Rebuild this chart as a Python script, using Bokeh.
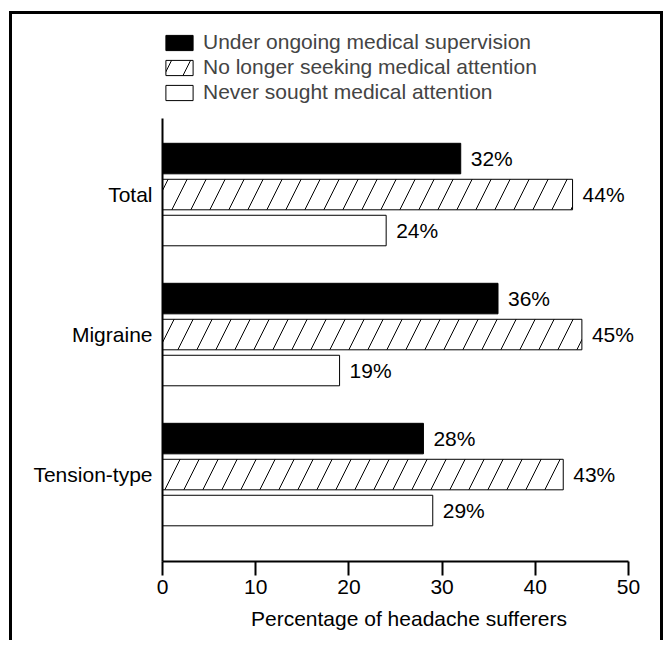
from bokeh.plotting import figure
from bokeh.models import Legend, LegendItem, FixedTicker, Range1d, InlineStyleSheet
from bokeh.core.properties import value
from bokeh.embed import file_html
from bokeh.resources import INLINE

categories = ["Total", "Migraine", "Tension-type"]
series = ["Under ongoing medical supervision",
          "No longer seeking medical attention",
          "Never sought medical attention"]
ongoing = [32, 36, 28]
no_longer = [44, 45, 43]
never = [24, 19, 29]
x_ticks = [0, 10, 20, 30, 40, 50]
x_title = "Percentage of headache sufferers"

FONT = "Liberation Sans"
FS = "21px"
n = len(categories)
pos = [n - i for i in range(n)]
off = 0.257
h = 0.218

p = figure(width=663, height=640, output_backend="svg", toolbar_location=None,
           x_range=Range1d(0, 52.9), y_range=Range1d(0.379, 4.286),
           min_border_left=162, min_border_right=8, min_border_top=14,
           min_border_bottom=79)
p.outline_line_color = None
p.xgrid.visible = False
p.ygrid.visible = False

y_top = [c + off for c in pos]
y_bot = [c - off for c in pos]

r1 = p.hbar(y=y_top, left=0, right=ongoing, height=h, fill_color="black",
            line_color="black", line_width=1)
r2 = p.hbar(y=pos, left=0, right=no_longer, height=h, fill_color="white",
            line_color="black", line_width=1, hatch_pattern="/",
            hatch_color="black", hatch_scale=38, hatch_weight=1)
r3 = p.hbar(y=y_bot, left=0, right=never, height=h, fill_color="white",
            line_color="black", line_width=1)

for vals, ys in ((ongoing, y_top), (no_longer, pos), (never, y_bot)):
    p.text(x=vals, y=ys, text=[f"{v}%" for v in vals], x_offset=10,
           text_baseline="middle", text_align="left",
           text_font=value(FONT), text_font_size=FS, text_color="black")

legend = Legend(items=[LegendItem(label=series[0], renderers=[r1]),
                       LegendItem(label=series[1], renderers=[r2]),
                       LegendItem(label=series[2], renderers=[r3])],
                location=(0, 457), padding=0, margin=0, spacing=1,
                glyph_width=34, glyph_height=19, label_height=19,
                label_standoff=7, label_text_font=FONT,
                label_text_font_size=FS, border_line_alpha=0,
                background_fill_alpha=0)
p.add_layout(legend)

xa = p.xaxis[0]
xa.ticker = FixedTicker(ticks=x_ticks)
xa.bounds = (0, 50)
xa.major_tick_out = 14
xa.major_tick_in = 0
xa.minor_tick_out = 0
xa.minor_tick_in = 0
xa.axis_line_width = 2
xa.major_tick_line_width = 2
xa.major_label_standoff = 4
xa.major_label_text_font = FONT
xa.major_label_text_font_size = FS
xa.major_label_text_color = "black"
xa.axis_label = x_title
xa.axis_label_text_font = FONT
xa.axis_label_text_font_size = FS
xa.axis_label_text_font_style = "normal"
xa.axis_label_text_color = "black"
xa.axis_label_standoff = 10

ya = p.yaxis[0]
ya.ticker = FixedTicker(ticks=pos)
ya.major_label_overrides = {c: lab for c, lab in zip(pos, categories)}
ya.bounds = (0.379, 3.543)
ya.major_tick_out = 0
ya.major_tick_in = 0
ya.minor_tick_out = 0
ya.minor_tick_in = 0
ya.axis_line_width = 2
ya.major_label_standoff = 10
ya.major_label_text_font = FONT
ya.major_label_text_font_size = FS
ya.major_label_text_color = "black"

p.stylesheets = [InlineStyleSheet(css="""
:host::after {
  content: '';
  position: absolute;
  left: 9px; top: 11px; right: 0px; bottom: 0px;
  border: 3px solid black;
  border-bottom: none;
  pointer-events: none;
  z-index: 10;
}
""")]

open("out.html", "w").write(file_html(p, INLINE))
